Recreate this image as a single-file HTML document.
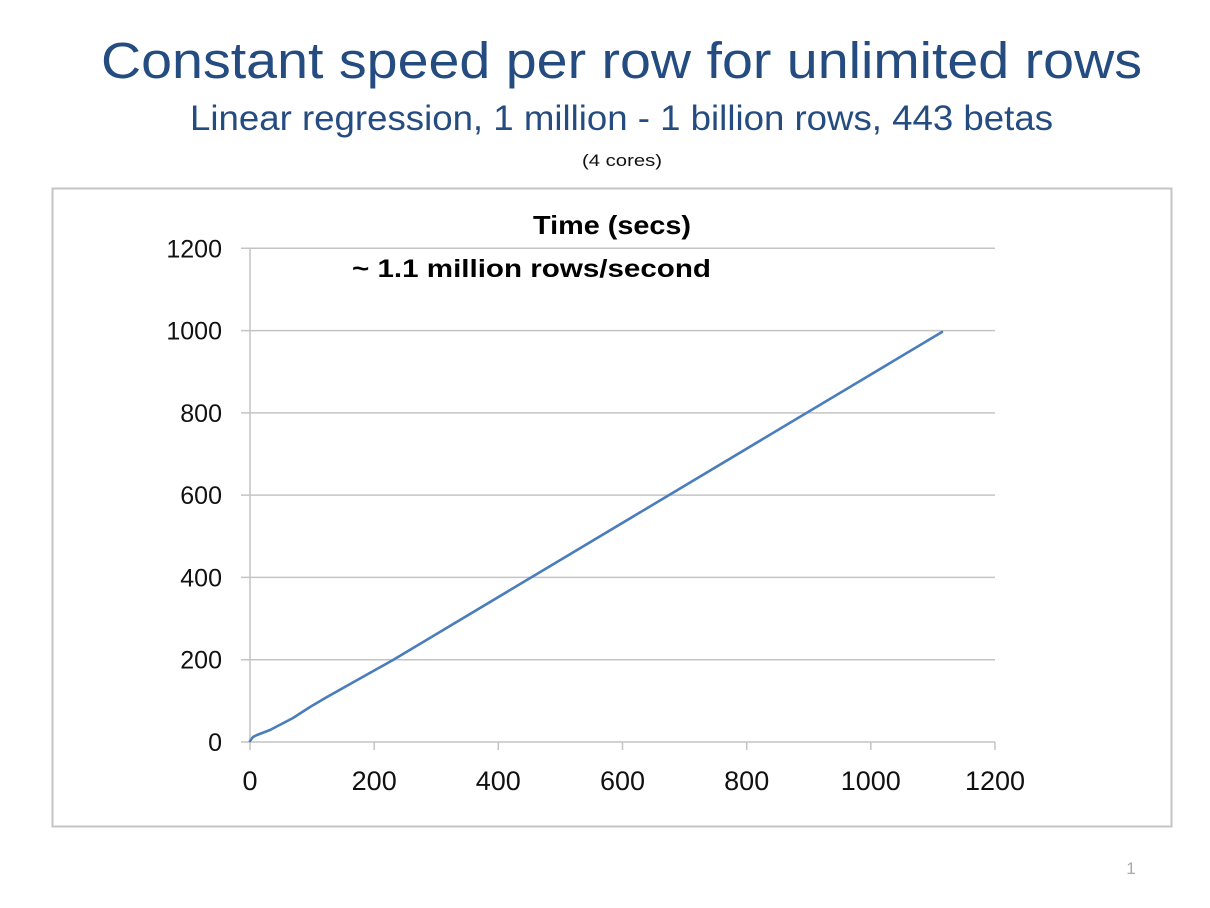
<!DOCTYPE html>
<html>
<head>
<meta charset="utf-8">
<style>
  html, body { margin:0; padding:0; background:#ffffff; }
  svg { display:block; }
</style>
</head>
<body>
<svg width="1210" height="908" viewBox="0 0 1210 908" xmlns="http://www.w3.org/2000/svg">
  <rect x="0" y="0" width="1210" height="908" fill="#ffffff"/>
  <!-- Titles -->
  <text x="101" y="78" font-family="Liberation Sans, sans-serif" font-size="51" fill="#244c80" textLength="1041" lengthAdjust="spacingAndGlyphs">Constant speed per row for unlimited rows</text>
  <text x="190" y="130" font-family="Liberation Sans, sans-serif" font-size="35" fill="#244c80" textLength="863" lengthAdjust="spacingAndGlyphs">Linear regression, 1 million - 1 billion rows, 443 betas</text>
  <text x="582" y="166" font-family="Liberation Sans, sans-serif" font-size="17" fill="#111" textLength="80" lengthAdjust="spacingAndGlyphs">(4 cores)</text>

  <!-- Chart border -->
  <rect x="52.5" y="188.5" width="1119" height="638" fill="none" stroke="#c4c4c4" stroke-width="2"/>

  <!-- Gridlines -->
  <g stroke="#c4c4c4" stroke-width="1.5">
    <line x1="241" y1="248.3" x2="995" y2="248.3"/>
    <line x1="241" y1="330.6" x2="995" y2="330.6"/>
    <line x1="241" y1="412.9" x2="995" y2="412.9"/>
    <line x1="241" y1="495.1" x2="995" y2="495.1"/>
    <line x1="241" y1="577.4" x2="995" y2="577.4"/>
    <line x1="241" y1="659.7" x2="995" y2="659.7"/>
    <line x1="241" y1="742" x2="995" y2="742"/>
    <!-- y axis -->
    <line x1="250" y1="248.3" x2="250" y2="750"/>
    <!-- x ticks -->
    <line x1="374.2" y1="742" x2="374.2" y2="750"/>
    <line x1="498.3" y1="742" x2="498.3" y2="750"/>
    <line x1="622.5" y1="742" x2="622.5" y2="750"/>
    <line x1="746.7" y1="742" x2="746.7" y2="750"/>
    <line x1="870.8" y1="742" x2="870.8" y2="750"/>
    <line x1="995" y1="742" x2="995" y2="750"/>
  </g>

  <!-- Y labels -->
  <g font-family="Liberation Sans, sans-serif" font-size="25" fill="#111" text-anchor="end">
    <text x="222" y="257.3">1200</text>
    <text x="222" y="339.6">1000</text>
    <text x="222" y="421.9">800</text>
    <text x="222" y="504.1">600</text>
    <text x="222" y="586.4">400</text>
    <text x="222" y="668.7">200</text>
    <text x="222" y="751">0</text>
  </g>

  <!-- X labels -->
  <g font-family="Liberation Sans, sans-serif" font-size="27" fill="#111" text-anchor="middle">
    <text x="250" y="790">0</text>
    <text x="374.2" y="790">200</text>
    <text x="498.3" y="790">400</text>
    <text x="622.5" y="790">600</text>
    <text x="746.7" y="790">800</text>
    <text x="870.8" y="790">1000</text>
    <text x="995" y="790">1200</text>
  </g>

  <!-- Chart title & annotation -->
  <text x="533" y="234" font-family="Liberation Sans, sans-serif" font-weight="bold" font-size="26" fill="#000" textLength="158" lengthAdjust="spacingAndGlyphs">Time (secs)</text>
  <text x="352" y="277" font-family="Liberation Sans, sans-serif" font-weight="bold" font-size="25" fill="#000" textLength="359" lengthAdjust="spacingAndGlyphs">~ 1.1 million rows/second</text>

  <!-- Series -->
  <polyline fill="none" stroke="#4a7ebb" stroke-width="2.6" stroke-linejoin="round" stroke-linecap="round"
    points="250,741 253,737 257,735 270,730 293,718 310,707 327,697 393,660 942,332"/>

  <!-- Page number -->
  <text x="1131" y="874" font-family="Liberation Sans, sans-serif" font-size="17" fill="#a8a8a8" text-anchor="middle">1</text>
</svg>
</body>
</html>
